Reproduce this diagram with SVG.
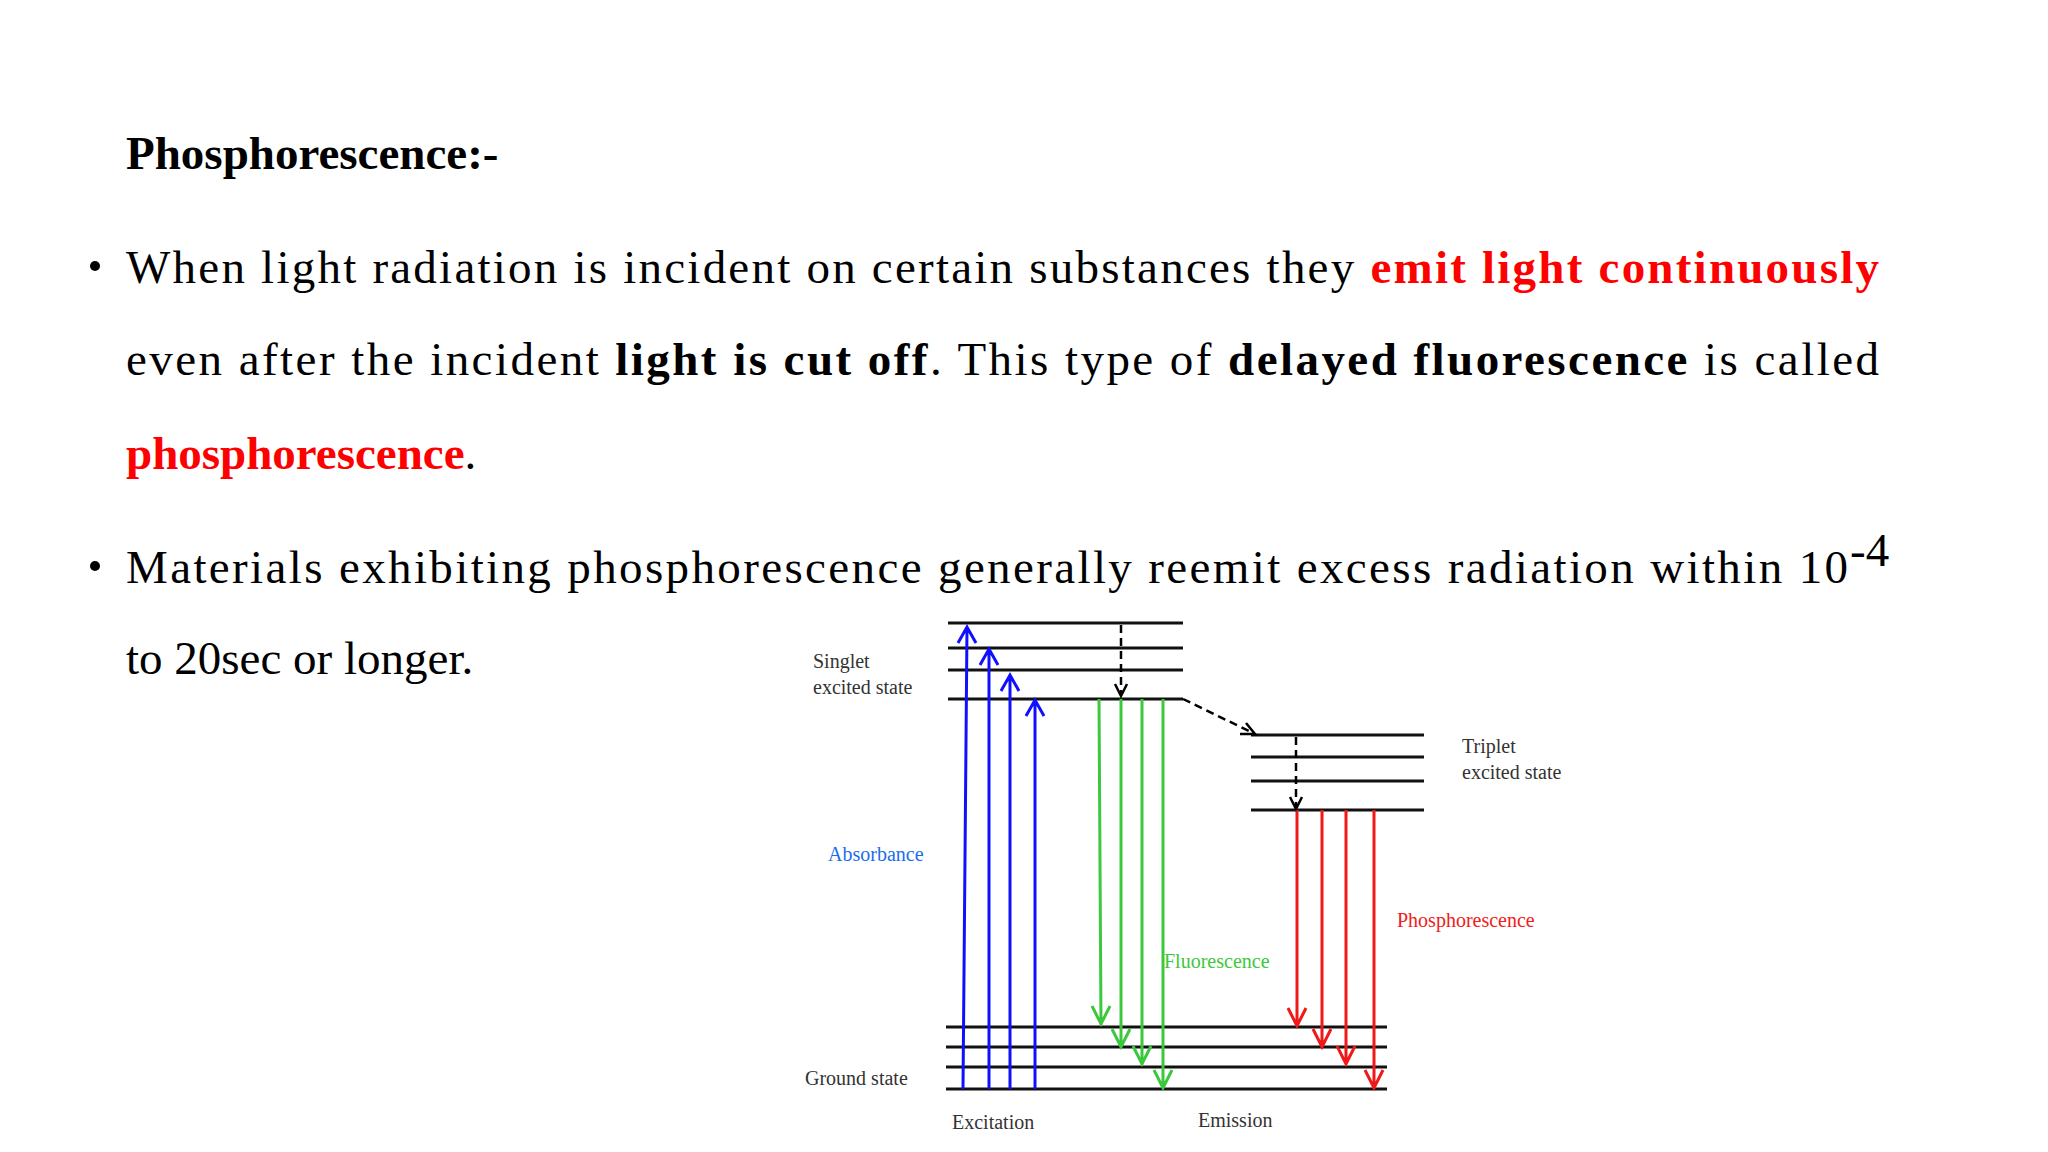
<svg xmlns="http://www.w3.org/2000/svg" width="2048" height="1152" viewBox="0 0 2048 1152">
<style>
.t{font-family:"Liberation Serif",serif;font-size:47px;fill:#000}
.b{font-weight:bold}
.r{fill:#f00}
.d{font-family:"Liberation Serif",serif;font-size:20px;fill:#333}
.lv{stroke:#111;stroke-width:3}
.bl{stroke:#1010ff;stroke-width:3;fill:none}
.gr{stroke:#3cc83c;stroke-width:3;fill:none}
.rd{stroke:#f01818;stroke-width:3;fill:none}
.ds{stroke:#000;stroke-width:2.5;stroke-dasharray:8,5;fill:none}
</style>
<rect width="2048" height="1152" fill="#fff"/>
<g id="text">
<text class="t b" x="126" y="169">Phosphorescence:-</text>
<circle cx="95" cy="266" r="5" fill="#000"/>
<text class="t" x="126" y="283" textLength="1753" lengthAdjust="spacing">When light radiation is incident on certain substances they <tspan class="b r">emit light continuously</tspan></text>
<text class="t" x="126" y="375" textLength="1753" lengthAdjust="spacing">even after the incident <tspan class="b">light is cut off</tspan>. This type of <tspan class="b">delayed fluorescence</tspan> is called</text>
<text class="t" x="126" y="469"><tspan class="b r">phosphorescence</tspan>.</text>
<circle cx="95" cy="566" r="5" fill="#000"/>
<text class="t" x="126" y="583" textLength="1722" lengthAdjust="spacing">Materials exhibiting phosphorescence generally reemit excess radiation within 10</text>
<text class="t" x="1850" y="566" font-size="29">-4</text>
<text class="t" x="126" y="674">to 20sec or longer.</text>
</g>
<g id="levels">
<line class="lv" x1="948" y1="623" x2="1183" y2="623"/>
<line class="lv" x1="948" y1="648" x2="1183" y2="648"/>
<line class="lv" x1="948" y1="670" x2="1183" y2="670"/>
<line class="lv" x1="948" y1="699" x2="1183" y2="699"/>
<line class="lv" x1="1251" y1="735" x2="1424" y2="735"/>
<line class="lv" x1="1251" y1="757" x2="1424" y2="757"/>
<line class="lv" x1="1251" y1="781" x2="1424" y2="781"/>
<line class="lv" x1="1251" y1="810" x2="1424" y2="810"/>
<line class="lv" x1="946" y1="1027" x2="1387" y2="1027"/>
<line class="lv" x1="946" y1="1047" x2="1387" y2="1047"/>
<line class="lv" x1="946" y1="1067" x2="1387" y2="1067"/>
<line class="lv" x1="946" y1="1089" x2="1387" y2="1089"/>
</g>
<g id="connectors">
<path class="bl" d="M963 1089L967 627M958 643L967 627L976 643"/>
<path class="bl" d="M989 1089V649M980 665L989 649L998 665"/>
<path class="bl" d="M1010 1089V675M1001 691L1010 675L1019 691"/>
<path class="bl" d="M1035 1089V700M1026 716L1035 700L1044 716"/>
<path class="gr" d="M1099 699L1101 1024M1092 1006L1101 1024L1110 1006"/>
<path class="gr" d="M1121 699V1047M1112 1029L1121 1047L1130 1029"/>
<path class="gr" d="M1142 699V1064M1133 1046L1142 1064L1151 1046"/>
<path class="gr" d="M1163 699V1088M1154 1070L1163 1088L1172 1070"/>
<path class="rd" d="M1297 810V1026M1288 1008L1297 1026L1306 1008"/>
<path class="rd" d="M1322 810V1047M1313 1029L1322 1047L1331 1029"/>
<path class="rd" d="M1346 810V1064M1337 1046L1346 1064L1355 1046"/>
<path class="rd" d="M1374 810V1088M1365 1070L1374 1088L1383 1070"/>
<path class="ds" d="M1121 625V694"/>
<path d="M1115 684L1121 696L1127 684" fill="none" stroke="#000" stroke-width="2.5"/>
<path class="ds" d="M1183 699L1253 733"/>
<path d="M1240 734L1255 734L1246 723" fill="none" stroke="#000" stroke-width="2.5"/>
<path class="ds" d="M1296 737V807"/>
<path d="M1290 797L1296 809L1302 797" fill="none" stroke="#000" stroke-width="2.5"/>
</g>
<g id="labels">
<text class="d" x="813" y="668">Singlet</text>
<text class="d" x="813" y="694">excited state</text>
<text class="d" x="1462" y="753">Triplet</text>
<text class="d" x="1462" y="779">excited state</text>
<text class="d" x="828" y="861" font-size="22" fill="#1a6ee8" style="fill:#1a6ee8">Absorbance</text>
<text class="d" x="1164" y="968" font-size="22" style="fill:#3cc83c">Fluorescence</text>
<text class="d" x="1397" y="927" font-size="22" style="fill:#f02020">Phosphorescence</text>
<text class="d" x="805" y="1085">Ground state</text>
<text class="d" x="952" y="1129">Excitation</text>
<text class="d" x="1198" y="1127">Emission</text>
</g>
</svg>
